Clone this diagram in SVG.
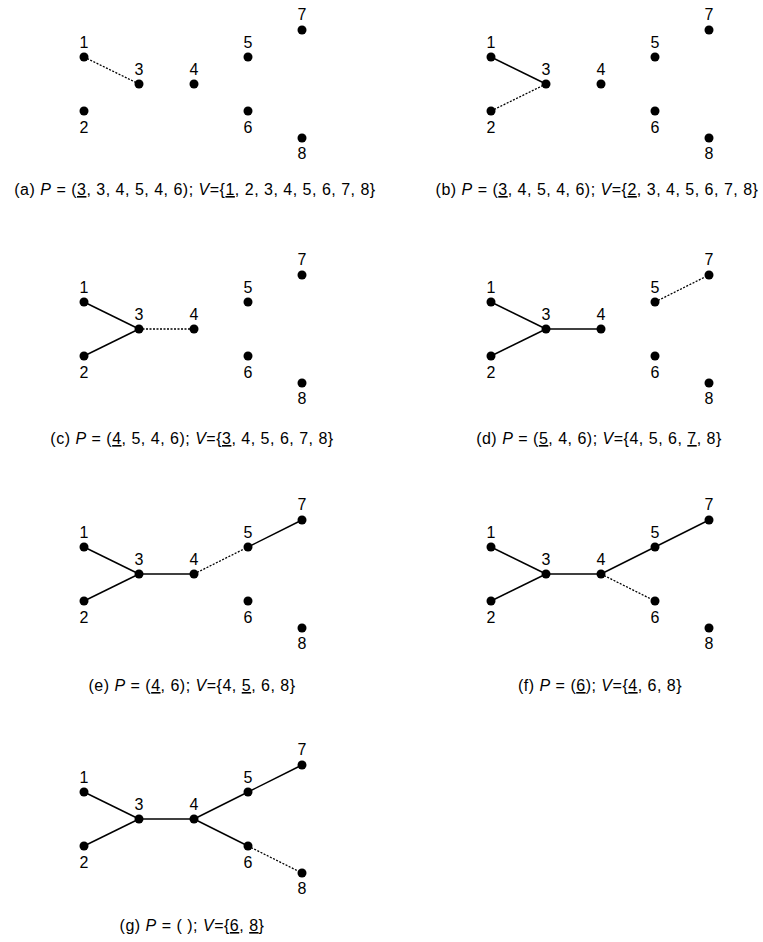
<svg xmlns="http://www.w3.org/2000/svg" width="763" height="942" viewBox="0 0 763 942">
<defs>
<style>
.bg{fill:#fff}
.dot{fill:#000}
.lbl{font-family:"Liberation Sans",Arial,sans-serif;font-size:16px;fill:#000;text-anchor:middle}
.cap{font-family:"Liberation Sans",Arial,sans-serif;font-size:16px;fill:#000;text-anchor:middle;letter-spacing:0.5px}
.it{font-style:italic}
.u{text-decoration:underline}
.e{stroke:#000;stroke-width:1.5;fill:none}
.d{stroke:#000;stroke-width:1.3;fill:none;stroke-dasharray:2 1.5}
</style>
<g id="n1"><circle class="dot" cx="84" cy="57" r="4.5"/><text class="lbl" x="84" y="48">1</text></g>
<g id="n2"><circle class="dot" cx="84" cy="111" r="4.5"/><text class="lbl" x="84" y="133">2</text></g>
<g id="n3"><circle class="dot" cx="139" cy="84" r="4.5"/><text class="lbl" x="139" y="75">3</text></g>
<g id="n4"><circle class="dot" cx="194" cy="84" r="4.5"/><text class="lbl" x="194" y="75">4</text></g>
<g id="n5"><circle class="dot" cx="248" cy="57" r="4.5"/><text class="lbl" x="248" y="48">5</text></g>
<g id="n6"><circle class="dot" cx="248" cy="111" r="4.5"/><text class="lbl" x="248" y="133">6</text></g>
<g id="n7"><circle class="dot" cx="302" cy="30" r="4.5"/><text class="lbl" x="302" y="20">7</text></g>
<g id="n8"><circle class="dot" cx="302" cy="138" r="4.5"/><text class="lbl" x="302" y="159">8</text></g>
</defs>
<rect class="bg" x="0" y="0" width="763" height="942"/>

<!-- Panel a -->
<g id="panel-a">
<g id="a-edges">
<line class="d" x1="84" y1="57" x2="139" y2="84"/>
</g>
<g id="a-node1"><use href="#n1"/></g>
<g id="a-node2"><use href="#n2"/></g>
<g id="a-node3"><use href="#n3"/></g>
<g id="a-node4"><use href="#n4"/></g>
<g id="a-node5"><use href="#n5"/></g>
<g id="a-node6"><use href="#n6"/></g>
<g id="a-node7"><use href="#n7"/></g>
<g id="a-node8"><use href="#n8"/></g>
</g>
<text class="cap" x="195" y="195">(a) <tspan class="it">P</tspan> = (<tspan class="u">3</tspan>, 3, 4, 5, 4, 6); <tspan class="it">V</tspan>={<tspan class="u">1</tspan>, 2, 3, 4, 5, 6, 7, 8}</text>

<!-- Panel b -->
<g id="panel-b" transform="translate(407,0)">
<g id="b-edges">
<line class="e" x1="84" y1="57" x2="139" y2="84"/>
<line class="d" x1="84" y1="111" x2="139" y2="84"/>
</g>
<g id="b-node1"><use href="#n1"/></g>
<g id="b-node2"><use href="#n2"/></g>
<g id="b-node3"><use href="#n3"/></g>
<g id="b-node4"><use href="#n4"/></g>
<g id="b-node5"><use href="#n5"/></g>
<g id="b-node6"><use href="#n6"/></g>
<g id="b-node7"><use href="#n7"/></g>
<g id="b-node8"><use href="#n8"/></g>
</g>
<text class="cap" x="597" y="195">(b) <tspan class="it">P</tspan> = (<tspan class="u">3</tspan>, 4, 5, 4, 6); <tspan class="it">V</tspan>={<tspan class="u">2</tspan>, 3, 4, 5, 6, 7, 8}</text>

<!-- Panel c -->
<g id="panel-c" transform="translate(0,245)">
<g id="c-edges">
<line class="e" x1="84" y1="57" x2="139" y2="84"/>
<line class="e" x1="84" y1="111" x2="139" y2="84"/>
<line class="d" x1="139" y1="84" x2="194" y2="84"/>
</g>
<g id="c-node1"><use href="#n1"/></g>
<g id="c-node2"><use href="#n2"/></g>
<g id="c-node3"><use href="#n3"/></g>
<g id="c-node4"><use href="#n4"/></g>
<g id="c-node5"><use href="#n5"/></g>
<g id="c-node6"><use href="#n6"/></g>
<g id="c-node7"><use href="#n7"/></g>
<g id="c-node8"><use href="#n8"/></g>
</g>
<text class="cap" x="192" y="444">(c) <tspan class="it">P</tspan> = (<tspan class="u">4</tspan>, 5, 4, 6); <tspan class="it">V</tspan>={<tspan class="u">3</tspan>, 4, 5, 6, 7, 8}</text>

<!-- Panel d -->
<g id="panel-d" transform="translate(407,245)">
<g id="d-edges">
<line class="e" x1="84" y1="57" x2="139" y2="84"/>
<line class="e" x1="84" y1="111" x2="139" y2="84"/>
<line class="e" x1="139" y1="84" x2="194" y2="84"/>
<line class="d" x1="248" y1="57" x2="302" y2="30"/>
</g>
<g id="d-node1"><use href="#n1"/></g>
<g id="d-node2"><use href="#n2"/></g>
<g id="d-node3"><use href="#n3"/></g>
<g id="d-node4"><use href="#n4"/></g>
<g id="d-node5"><use href="#n5"/></g>
<g id="d-node6"><use href="#n6"/></g>
<g id="d-node7"><use href="#n7"/></g>
<g id="d-node8"><use href="#n8"/></g>
</g>
<text class="cap" x="599" y="444">(d) <tspan class="it">P</tspan> = (<tspan class="u">5</tspan>, 4, 6); <tspan class="it">V</tspan>={4, 5, 6, <tspan class="u">7</tspan>, 8}</text>

<!-- Panel e -->
<g id="panel-e" transform="translate(0,490)">
<g id="e-edges">
<line class="e" x1="84" y1="57" x2="139" y2="84"/>
<line class="e" x1="84" y1="111" x2="139" y2="84"/>
<line class="e" x1="139" y1="84" x2="194" y2="84"/>
<line class="e" x1="248" y1="57" x2="302" y2="30"/>
<line class="d" x1="194" y1="84" x2="248" y2="57"/>
</g>
<g id="e-node1"><use href="#n1"/></g>
<g id="e-node2"><use href="#n2"/></g>
<g id="e-node3"><use href="#n3"/></g>
<g id="e-node4"><use href="#n4"/></g>
<g id="e-node5"><use href="#n5"/></g>
<g id="e-node6"><use href="#n6"/></g>
<g id="e-node7"><use href="#n7"/></g>
<g id="e-node8"><use href="#n8"/></g>
</g>
<text class="cap" x="192" y="691">(e) <tspan class="it">P</tspan> = (<tspan class="u">4</tspan>, 6); <tspan class="it">V</tspan>={4, <tspan class="u">5</tspan>, 6, 8}</text>

<!-- Panel f -->
<g id="panel-f" transform="translate(407,490)">
<g id="f-edges">
<line class="e" x1="84" y1="57" x2="139" y2="84"/>
<line class="e" x1="84" y1="111" x2="139" y2="84"/>
<line class="e" x1="139" y1="84" x2="194" y2="84"/>
<line class="e" x1="248" y1="57" x2="302" y2="30"/>
<line class="e" x1="194" y1="84" x2="248" y2="57"/>
<line class="d" x1="194" y1="84" x2="248" y2="111"/>
</g>
<g id="f-node1"><use href="#n1"/></g>
<g id="f-node2"><use href="#n2"/></g>
<g id="f-node3"><use href="#n3"/></g>
<g id="f-node4"><use href="#n4"/></g>
<g id="f-node5"><use href="#n5"/></g>
<g id="f-node6"><use href="#n6"/></g>
<g id="f-node7"><use href="#n7"/></g>
<g id="f-node8"><use href="#n8"/></g>
</g>
<text class="cap" x="600" y="691">(f) <tspan class="it">P</tspan> = (<tspan class="u">6</tspan>); <tspan class="it">V</tspan>={<tspan class="u">4</tspan>, 6, 8}</text>

<!-- Panel g -->
<g id="panel-g" transform="translate(0,735)">
<g id="g-edges">
<line class="e" x1="84" y1="57" x2="139" y2="84"/>
<line class="e" x1="84" y1="111" x2="139" y2="84"/>
<line class="e" x1="139" y1="84" x2="194" y2="84"/>
<line class="e" x1="248" y1="57" x2="302" y2="30"/>
<line class="e" x1="194" y1="84" x2="248" y2="57"/>
<line class="e" x1="194" y1="84" x2="248" y2="111"/>
<line class="d" x1="248" y1="111" x2="302" y2="138"/>
</g>
<g id="g-node1"><use href="#n1"/></g>
<g id="g-node2"><use href="#n2"/></g>
<g id="g-node3"><use href="#n3"/></g>
<g id="g-node4"><use href="#n4"/></g>
<g id="g-node5"><use href="#n5"/></g>
<g id="g-node6"><use href="#n6"/></g>
<g id="g-node7"><use href="#n7"/></g>
<g id="g-node8"><use href="#n8"/></g>
</g>
<text class="cap" x="192" y="931">(g) <tspan class="it">P</tspan> = ( ); <tspan class="it">V</tspan>={<tspan class="u">6</tspan>, <tspan class="u">8</tspan>}</text>
</svg>
